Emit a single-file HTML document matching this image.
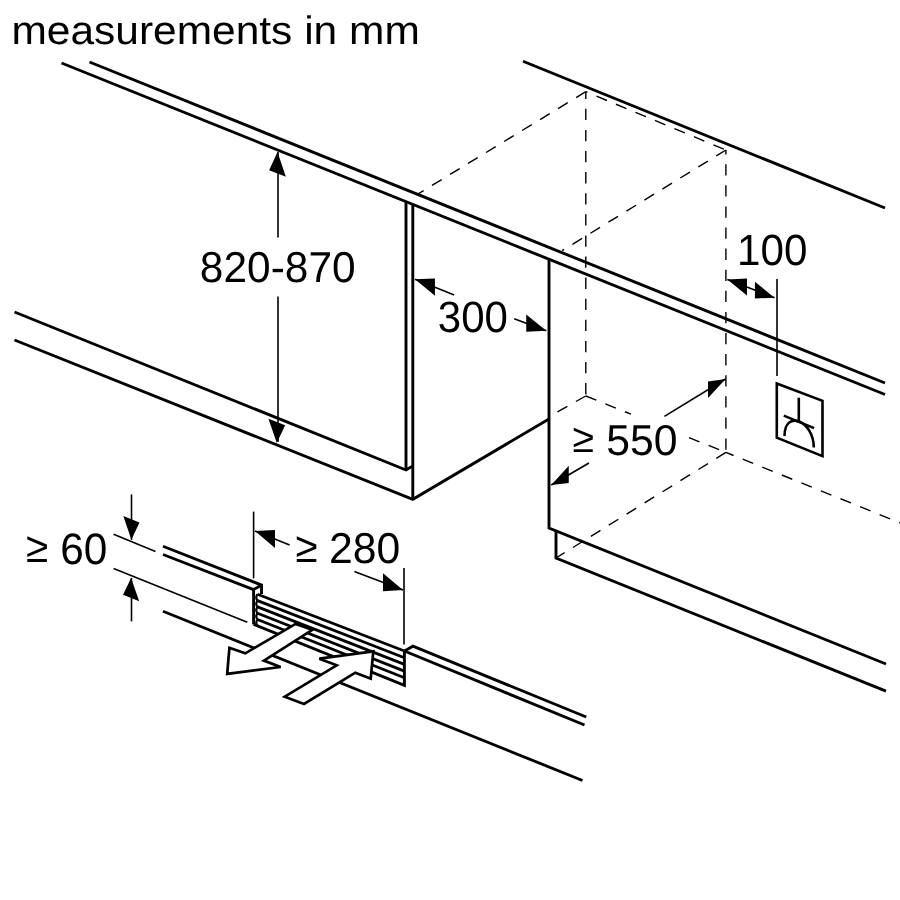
<!DOCTYPE html>
<html><head><meta charset="utf-8"><style>
html,body{margin:0;padding:0;background:#fff;}
svg{display:block;will-change:transform;}
text{text-rendering:geometricPrecision;font-family:"Liberation Sans",sans-serif;font-size:42.5px;fill:#000;stroke:none;}
</style></head><body>
<svg width="900" height="900" viewBox="0 0 900 900">
<rect width="900" height="900" fill="#fff"/>
<g stroke="#000" stroke-linecap="butt" fill="none">
<line x1="585.8" y1="91.7" x2="417.3" y2="194.4" stroke-width="1.4" stroke-dasharray="11.3 9.8" stroke-dashoffset="0"/>
<line x1="585.8" y1="91.7" x2="725.9" y2="150" stroke-width="1.4" stroke-dasharray="11.3 9.8" stroke-dashoffset="9.5"/>
<line x1="725.9" y1="150" x2="562.2" y2="250.6" stroke-width="1.4" stroke-dasharray="11.3 9.8" stroke-dashoffset="0"/>
<line x1="585.8" y1="91.7" x2="585.8" y2="396" stroke-width="1.4" stroke-dasharray="11.3 9.8" stroke-dashoffset="4"/>
<line x1="725.9" y1="150" x2="725.9" y2="452.4" stroke-width="1.4" stroke-dasharray="11.3 9.8" stroke-dashoffset="6.9"/>
<line x1="585.8" y1="396" x2="549" y2="416.5" stroke-width="1.4" stroke-dasharray="11.3 9.8" stroke-dashoffset="0"/>
<line x1="585.8" y1="396" x2="631" y2="414.2" stroke-width="1.4" stroke-dasharray="11.3 9.8" stroke-dashoffset="0"/>
<line x1="689" y1="437.6" x2="725.9" y2="452.4" stroke-width="1.4" stroke-dasharray="11.3 9.8" stroke-dashoffset="0"/>
<line x1="725.9" y1="452.4" x2="556" y2="558" stroke-width="1.4" stroke-dasharray="11.3 9.8" stroke-dashoffset="0"/>
<line x1="725.9" y1="452.4" x2="900" y2="522.8" stroke-width="1.4" stroke-dasharray="11.3 9.8" stroke-dashoffset="3"/>
<line x1="89.5" y1="62" x2="885" y2="383" stroke-width="2.9"/>
<line x1="61.5" y1="63" x2="885" y2="394.5" stroke-width="2.9"/>
<line x1="523" y1="61.25" x2="885" y2="208" stroke-width="2.9"/>
<polyline points="14.5,312 406,470 412.8,466" stroke-width="2.9" stroke-linejoin="miter"/>
<polyline points="14.5,340 412.8,499.3 549,419" stroke-width="2.9" stroke-linejoin="miter"/>
<line x1="406" y1="201.6" x2="406" y2="470" stroke-width="2.9"/>
<line x1="412.8" y1="204.2" x2="412.8" y2="499.3" stroke-width="2.9"/>
<polyline points="549,259.3 549,528 886,664" stroke-width="2.9" stroke-linejoin="miter"/>
<polyline points="556,531 556,558 886,691.2" stroke-width="2.9" stroke-linejoin="miter"/>
<polygon points="776.8,383.5 822.5,400.8 822.5,456.1 776.8,437.6" fill="none" stroke-width="2.6" stroke-linejoin="miter"/>
<line x1="798.8" y1="397.7" x2="798.8" y2="422.3" stroke-width="2.6"/>
<line x1="783.8" y1="415.6" x2="814.1" y2="428.1" stroke-width="2.6"/>
<path d="M784.5 436 C784.5 409 813.8 420.6 813.8 447.6" fill="none" stroke-width="2.6"/>
<polyline points="163,546.25 261.5,585.1 261.5,594" stroke-width="2.9" stroke-linejoin="miter"/>
<polyline points="163,554.5 253.6,589.6 261.5,585.1" stroke-width="2.9" stroke-linejoin="miter"/>
<line x1="253.6" y1="589.6" x2="253.6" y2="624.3" stroke-width="2.9"/>
<line x1="163" y1="611.25" x2="582.5" y2="780.5" stroke-width="2.9"/>
<polyline points="253.6,624.3 404.4,685.3 404.4,651 412.9,646.2 586.25,717" stroke-width="2.9" stroke-linejoin="miter"/>
<line x1="404.4" y1="651" x2="584.5" y2="725" stroke-width="2.9"/>
<line x1="257.5" y1="594.3" x2="404.4" y2="651.0" stroke-width="2.8"/>
<path d="M257.5 594.3 Q255 597.4499999999999 257.5 600.5999999999999" fill="none" stroke-width="2.2"/>
<line x1="257.5" y1="600.5999999999999" x2="404.4" y2="657.7" stroke-width="2.8"/>
<path d="M257.5 600.5999999999999 Q255 603.7499999999999 257.5 606.8999999999999" fill="none" stroke-width="2.2"/>
<line x1="257.5" y1="606.9" x2="404.4" y2="664.4" stroke-width="2.8"/>
<path d="M257.5 606.9 Q255 610.05 257.5 613.1999999999999" fill="none" stroke-width="2.2"/>
<line x1="257.5" y1="613.1999999999999" x2="404.4" y2="671.1" stroke-width="2.8"/>
<path d="M257.5 613.1999999999999 Q255 616.3499999999999 257.5 619.4999999999999" fill="none" stroke-width="2.2"/>
<line x1="257.5" y1="619.5" x2="404.4" y2="677.8" stroke-width="2.8"/>
<path d="M257.5 619.5 Q255 622.65 257.5 625.8" fill="none" stroke-width="2.2"/>
<polygon points="227.2,673.9 229.4,647.8 245.3,653.3 295.6,623.9 312.3,629.8 263.9,660.6 280.6,667.0" fill="#fff" stroke-width="2.7" stroke-linejoin="miter"/>
<polygon points="373.3,651.3 370.7,678.7 355.3,672.7 304.0,704.0 284.7,696.7 336.7,665.3 319.3,658.7" fill="#fff" stroke-width="2.7" stroke-linejoin="miter"/>
<line x1="278" y1="152" x2="278" y2="237.4" stroke-width="1.6"/>
<line x1="278" y1="296.6" x2="278" y2="442" stroke-width="1.6"/>
<polygon points="277.50,152.00 285.86,176.84 269.14,170.16" fill="#000" stroke="none"/>
<polygon points="276.80,443.00 285.16,425.34 268.44,418.66" fill="#000" stroke="none"/>
<line x1="415" y1="279.2" x2="454.2" y2="295" stroke-width="1.6"/>
<line x1="514.2" y1="318.7" x2="546.3" y2="330.8" stroke-width="1.6"/>
<polygon points="415.00,279.20 434.96,295.78 434.96,278.58" fill="#000" stroke="none"/>
<polygon points="546.30,330.80 526.24,331.68 526.24,314.48" fill="#000" stroke="none"/>
<line x1="727.4" y1="279.4" x2="774.5" y2="297.7" stroke-width="1.6"/>
<polygon points="727.40,279.40 746.97,295.41 746.97,278.61" fill="#000" stroke="none"/>
<polygon points="774.50,297.70 754.93,298.49 754.93,281.69" fill="#000" stroke="none"/>
<line x1="777" y1="279" x2="777" y2="376" stroke-width="1.6"/>
<line x1="664.4" y1="416.4" x2="725.6" y2="379" stroke-width="1.6"/>
<line x1="589" y1="463" x2="551.25" y2="485" stroke-width="1.6"/>
<polygon points="725.60,379.00 708.02,398.04 708.02,381.44" fill="#000" stroke="none"/>
<polygon points="551.25,485.00 568.77,483.06 568.77,465.66" fill="#000" stroke="none"/>
<line x1="253.6" y1="511.6" x2="253.6" y2="578.4" stroke-width="1.6"/>
<line x1="255" y1="531" x2="289.6" y2="545" stroke-width="1.6"/>
<polygon points="255.00,531.00 275.02,548.11 275.02,530.11" fill="#000" stroke="none"/>
<line x1="404" y1="568" x2="404" y2="644.4" stroke-width="1.6"/>
<line x1="354.4" y1="571.4" x2="403" y2="590" stroke-width="1.6"/>
<polygon points="403.00,590.00 383.02,591.35 383.02,573.35" fill="#000" stroke="none"/>
<line x1="131.5" y1="494.4" x2="131.5" y2="539.8" stroke-width="1.6"/>
<polygon points="131.40,539.80 139.48,522.43 123.32,515.97" fill="#000" stroke="none"/>
<line x1="131.5" y1="578" x2="131.5" y2="621.4" stroke-width="1.6"/>
<polygon points="131.10,577.90 139.18,601.13 123.02,594.67" fill="#000" stroke="none"/>
<line x1="113.6" y1="534.3" x2="155.5" y2="551.4" stroke-width="1.6"/>
<line x1="113.6" y1="568.5" x2="247.3" y2="622.2" stroke-width="1.6"/>
<text transform="translate(11.398 43.902) scale(0.9995 0.9378)">measurements in mm</text>
<text transform="translate(199.852 282.358) scale(0.9984 1.0159)">820-870</text>
<text transform="translate(437.848 332.356) scale(0.9891 1.0319)">300</text>
<text transform="translate(737.124 265.116) scale(0.9921 1.0244)">100</text>
<text transform="translate(60.17 563.611) scale(0.9972 1.0334)">60</text>
<text transform="translate(328.976 563.359) scale(1.0048 1.0155)">280</text>
<text transform="translate(606.358 455.049) scale(1.0038 1.0136)">550</text>
<text transform="translate(25.887 561.997) scale(0.9519 1.0067)">≥</text>
<text transform="translate(295.53 561.997) scale(0.9475 1.0097)">≥</text>
<text transform="translate(572.588 452.497) scale(0.9217 0.9493)">≥</text>
</g>
</svg>
</body></html>
